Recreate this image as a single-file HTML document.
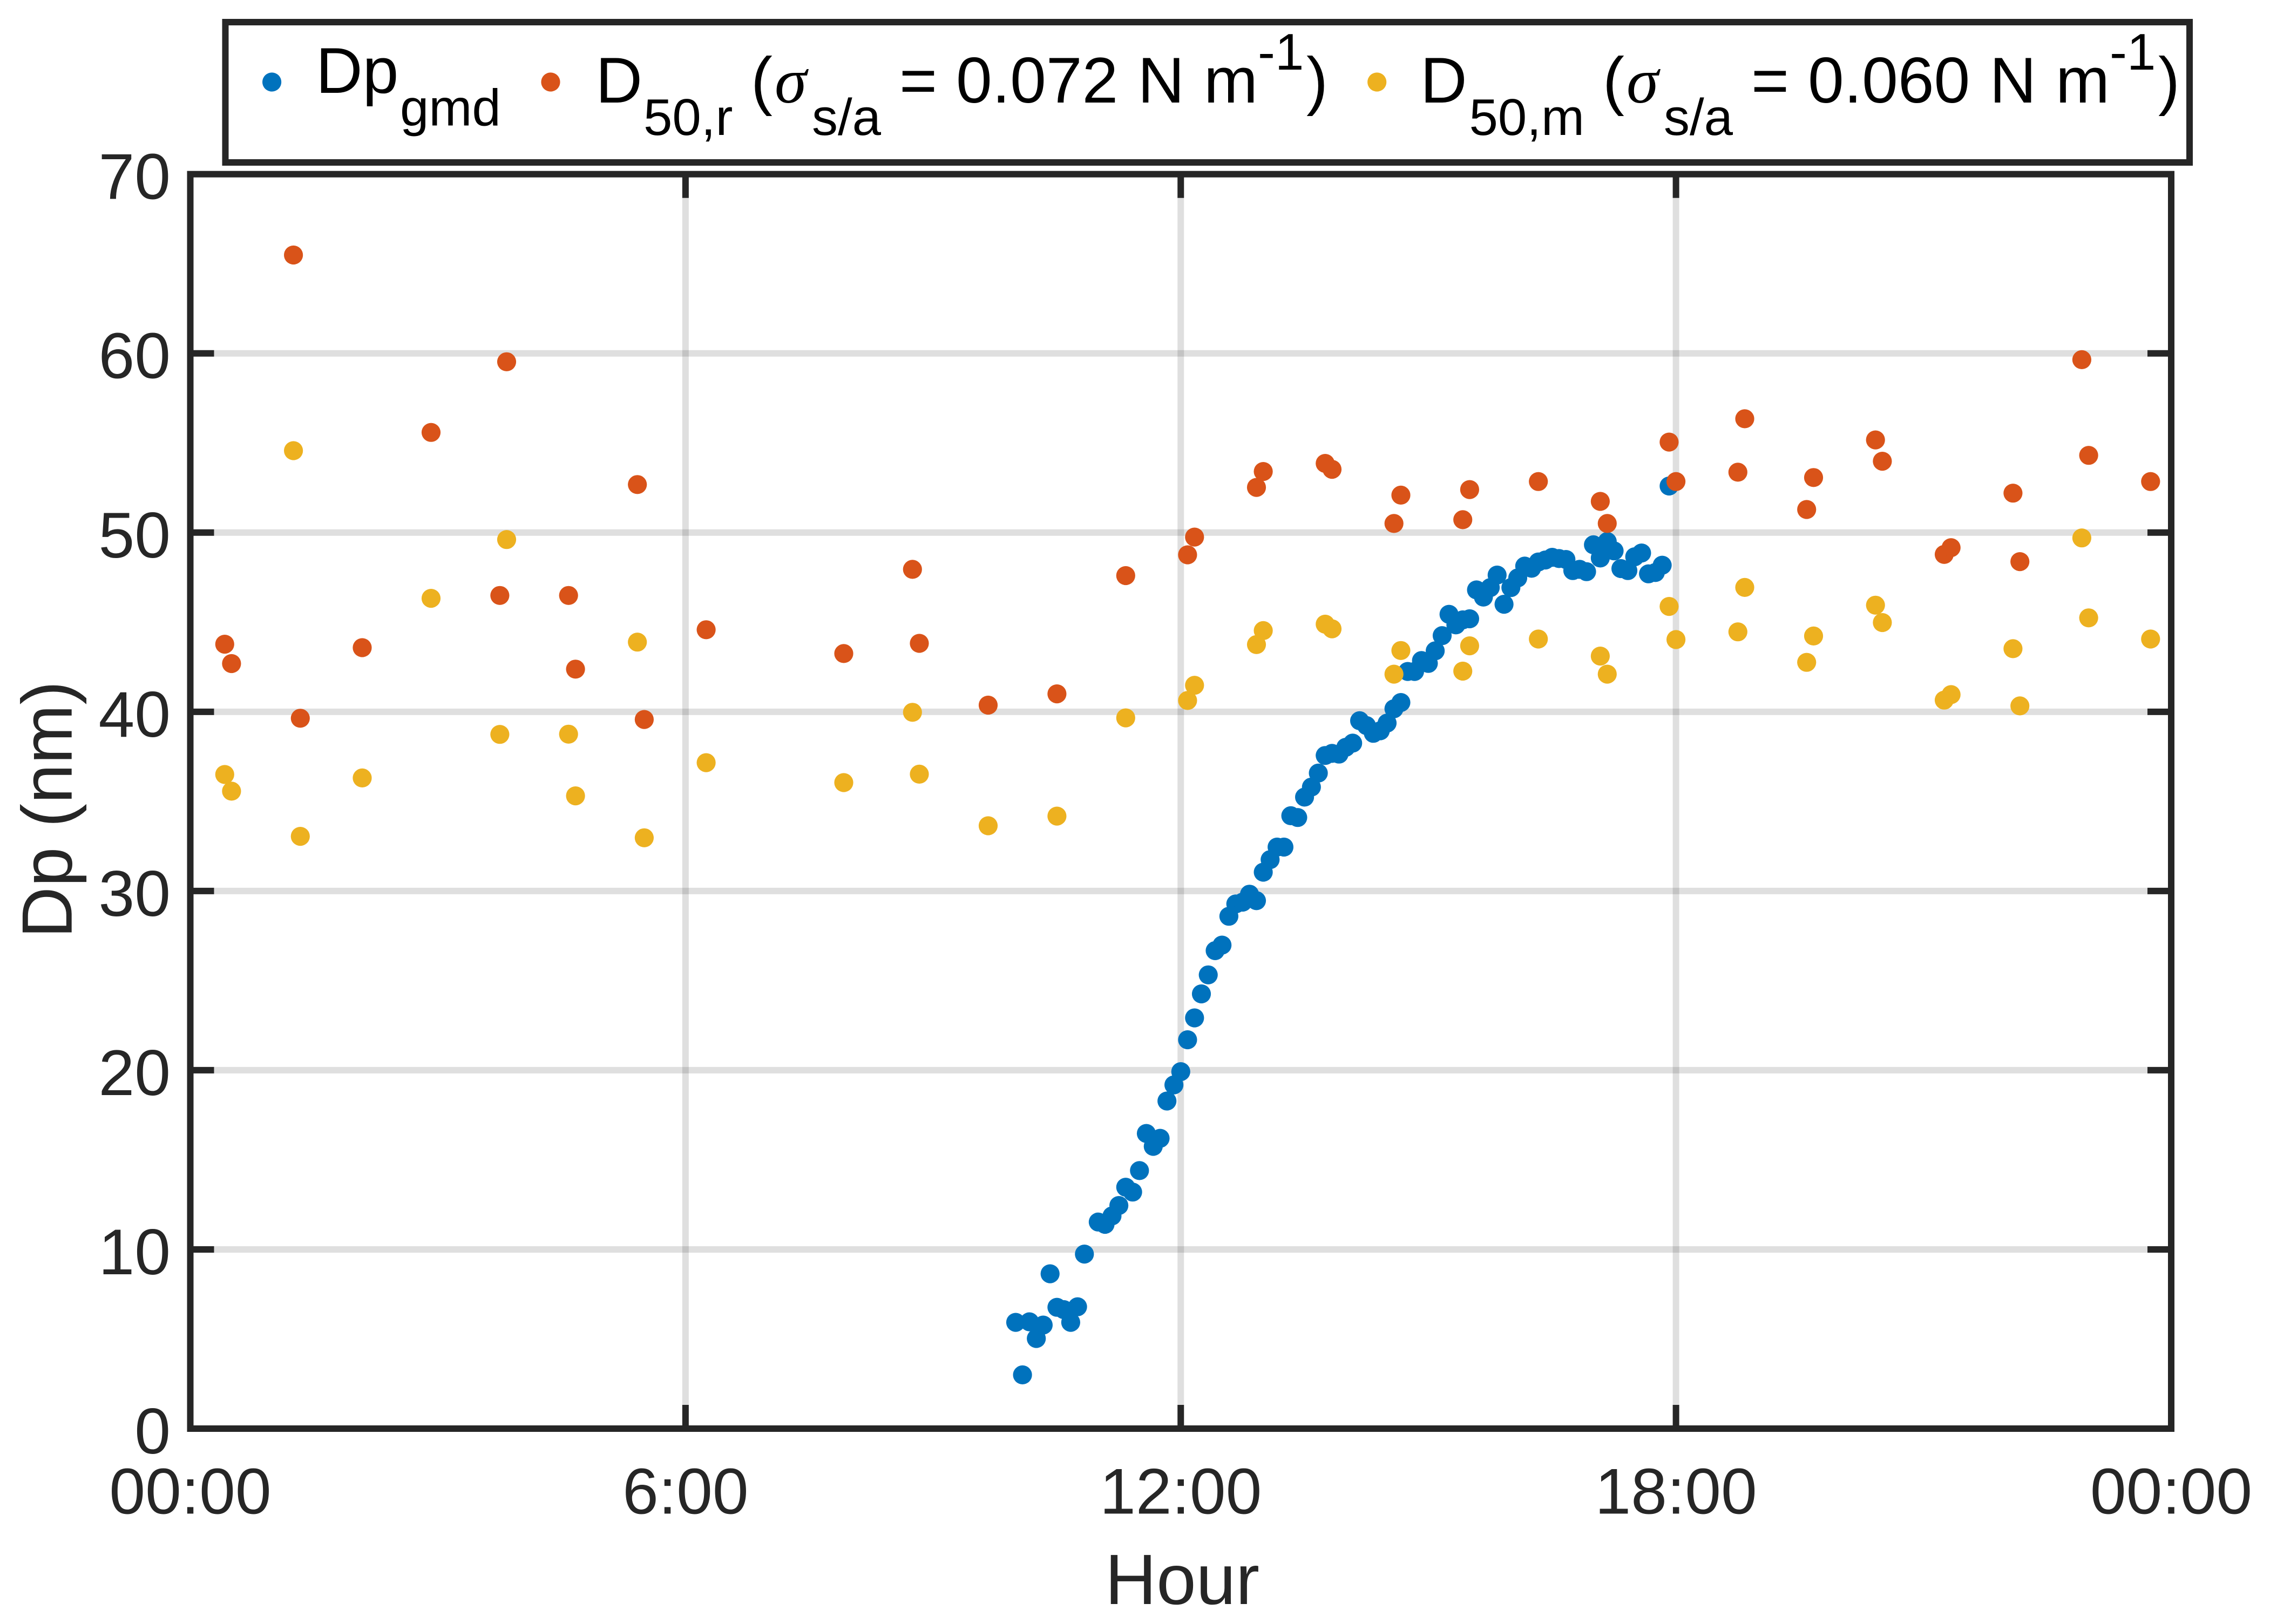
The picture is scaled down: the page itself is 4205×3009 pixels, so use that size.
<!DOCTYPE html>
<html lang="en">
<head>
<meta charset="utf-8">
<title>Dp vs Hour</title>
<style>
html,body{margin:0;padding:0;background:#fff;}
svg{display:block;}
text{font-family:"Liberation Sans",sans-serif;}
.sigma{font-family:"Liberation Serif",serif;font-style:italic;}
</style>
</head>
<body>
<svg id="chart" xmlns="http://www.w3.org/2000/svg" width="4205" height="3009" viewBox="0 0 4205 3009">
  <rect x="0" y="0" width="4205" height="3009" fill="#ffffff"/>
  <g id="grid"></g>
  <g id="series-gmd"></g>
  <g id="series-r"></g>
  <g id="series-m"></g>
  <g id="ticks"></g>
  <rect x="352.5" y="322.7" width="3669.5" height="2324.3" fill="none" stroke="#262626" stroke-width="12"/>
  <g id="tick-labels" font-size="120" fill="#262626"></g>
  <text x="2190" y="2972" font-size="132" fill="#262626" text-anchor="middle">Hour</text>
  <text transform="translate(132.7,1500) rotate(-90)" font-size="132" fill="#262626" text-anchor="middle">Dp (nm)</text>

  <g>
    <rect x="417.5" y="41" width="3638.5" height="260" fill="#ffffff" stroke="#262626" stroke-width="12"/>
    <g>
      <circle cx="503.6" cy="152" r="17.6" fill="#0072BD"/>
      <text x="585" y="172" font-size="120" fill="#000">Dp</text>
      <text x="741" y="232.7" font-size="96" fill="#000">gmd</text>
    </g>
    <g>
      <circle cx="1020" cy="152" r="17.6" fill="#D95319"/>
      <text x="1103.4" y="190" font-size="120" fill="#000">D</text>
      <text x="1192" y="250" font-size="96" fill="#000">50,r</text>
      <text x="1391" y="190" font-size="120" fill="#000">(</text>
      <text class="sigma" x="1435" y="190" font-size="120" fill="#000">σ</text>
      <text x="1504" y="250" font-size="96" fill="#000">s/a</text>
      <text x="1666" y="190" font-size="120" fill="#000">=</text>
      <text x="1771" y="190" font-size="120" fill="#000">0.072</text>
      <text x="2107.5" y="190" font-size="120" fill="#000">N</text>
      <text x="2230" y="190" font-size="120" fill="#000">m</text>
      <text x="2330" y="129" font-size="96" fill="#000">-1</text>
      <text x="2420" y="190" font-size="120" fill="#000">)</text>
    </g>
    <g>
      <circle cx="2550.7" cy="152" r="17.6" fill="#EDB120"/>
      <text x="2631" y="190" font-size="120" fill="#000">D</text>
      <text x="2721.5" y="250" font-size="96" fill="#000">50,m</text>
      <text x="2969" y="190" font-size="120" fill="#000">(</text>
      <text class="sigma" x="3013" y="190" font-size="120" fill="#000">σ</text>
      <text x="3082" y="250" font-size="96" fill="#000">s/a</text>
      <text x="3244" y="190" font-size="120" fill="#000">=</text>
      <text x="3349" y="190" font-size="120" fill="#000">0.060</text>
      <text x="3685.5" y="190" font-size="120" fill="#000">N</text>
      <text x="3808" y="190" font-size="120" fill="#000">m</text>
      <text x="3908" y="129" font-size="96" fill="#000">-1</text>
      <text x="3998" y="190" font-size="120" fill="#000">)</text>
    </g>
  </g>
</svg>
<script>
var xTickHours = [0, 6, 12, 18, 24];
var xTickLabels = ["00:00", "6:00", "12:00", "18:00", "00:00"];
var yTickValues = [0, 10, 20, 30, 40, 50, 60, 70];
var yTickLabels = ["0", "10", "20", "30", "40", "50", "60", "70"];

var gmdHours = [10.000,10.083,10.167,10.250,10.333,10.417,10.500,10.583,10.667,10.750,10.833,
  11.000,11.083,11.167,11.250,11.333,11.417,11.500,11.583,11.667,11.750,11.833,11.917,
  12.000,12.083,12.167,12.250,12.333,12.417,12.500,12.583,12.667,12.750,12.833,12.917,
  13.000,13.083,13.167,13.250,13.333,13.417,13.500,13.583,13.667,13.750,13.833,13.917,
  14.000,14.083,14.167,14.250,14.333,14.417,14.500,14.583,14.667,14.750,14.833,14.917,
  15.000,15.083,15.167,15.250,15.333,15.417,15.500,15.583,15.667,15.750,15.833,15.917,
  16.000,16.083,16.167,16.250,16.333,16.417,16.500,16.583,16.667,16.750,16.833,16.917,
  17.000,17.083,17.167,17.250,17.333,17.417,17.500,17.583,17.667,17.750,17.833,17.917];
var gmdValues = [5.93,3.0,5.96,5.03,5.78,8.64,6.77,6.64,5.93,6.8,9.74,
  11.53,11.4,11.87,12.45,13.47,13.2,14.4,16.47,15.75,16.2,18.28,19.18,
  19.92,21.7,22.92,24.26,25.32,26.67,26.98,28.59,29.28,29.38,29.82,29.46,
  31.05,31.75,32.45,32.45,34.2,34.1,35.24,35.8,36.58,37.56,37.68,37.64,
  38.02,38.25,39.5,39.23,38.8,38.94,39.37,40.17,40.52,42.25,42.25,42.86,
  42.7,43.4,44.25,45.44,44.85,45.13,45.19,46.8,46.4,46.93,47.63,46.0,
  46.93,47.47,48.13,48.01,48.36,48.47,48.62,48.55,48.5,47.88,47.95,47.82,
  49.32,48.58,49.5,48.98,47.99,47.88,48.65,48.86,47.7,47.77,48.18,52.6];

var d50Hours = [0.417,0.5,1.25,1.333,2.083,2.917,3.75,3.833,4.583,4.667,5.417,5.5,6.25,7.917,
  8.75,8.833,9.667,10.5,11.333,12.083,12.167,12.917,13.0,13.75,13.833,14.583,14.667,15.417,15.5,
  16.333,17.083,17.167,17.917,18.0,18.75,18.833,19.583,19.667,20.417,20.5,21.25,21.333,22.083,22.167,22.917,23.0,23.75];
var d50rValues = [43.77,42.69,65.49,39.64,43.58,55.59,46.49,59.53,46.49,42.38,52.68,39.57,44.58,43.25,
  47.95,43.82,40.37,41.0,47.6,48.76,49.75,52.52,53.41,53.86,53.53,50.51,52.09,50.72,52.4,
  52.85,51.74,50.51,55.05,52.85,53.37,56.35,51.29,53.07,55.17,53.98,48.78,49.16,52.2,48.38,59.65,54.31,52.85];
var d50mValues = [36.5,35.57,54.57,33.05,36.31,46.33,38.74,49.61,38.75,35.31,43.89,32.97,37.16,36.05,
  39.97,36.52,33.64,34.18,39.66,40.63,41.48,43.75,44.53,44.89,44.63,42.1,43.42,42.27,43.68,
  44.06,43.11,42.1,45.88,44.03,44.46,46.94,42.76,44.23,45.95,44.98,40.65,40.96,43.52,40.33,49.7,45.24,44.06];

var NS = "http://www.w3.org/2000/svg";
var plotLeft = 352.5, plotRight = 4022, plotTop = 322.7, plotBottom = 2647;
var xMax = 24, yMax = 70, tickLen = 44;

function xScale(h) { return plotLeft + (h / xMax) * (plotRight - plotLeft); }
function yScale(v) { return plotBottom - (v / yMax) * (plotBottom - plotTop); }

function makeLine(parent, x1, y1, x2, y2, color, opacity, name) {
  var el = document.createElementNS(NS, "line");
  el.setAttribute("x1", x1);
  el.setAttribute("y1", y1);
  el.setAttribute("x2", x2);
  el.setAttribute("y2", y2);
  el.setAttribute("stroke", color);
  el.setAttribute("stroke-width", 12);
  el.setAttribute("stroke-opacity", opacity);
  
  
  parent.appendChild(el);
}

function makeLabel(parent, x, y, anchor, str, name) {
  var el = document.createElementNS(NS, "text");
  el.setAttribute("x", x);
  el.setAttribute("y", y);
  el.setAttribute("text-anchor", anchor);
  
  
  el.textContent = str;
  parent.appendChild(el);
}

function drawSeries(parent, hours, values, color, name) {
  for (var i = 0; i < values.length; i++) {
    var c = document.createElementNS(NS, "circle");
    c.setAttribute("cx", xScale(hours[i]).toFixed(1));
    c.setAttribute("cy", yScale(values[i]).toFixed(1));
    c.setAttribute("r", 17.6);
    c.setAttribute("fill", color);
    
    
    parent.appendChild(c);
  }
}

var gridG = document.getElementById("grid");
var ticksG = document.getElementById("ticks");
var labelsG = document.getElementById("tick-labels");

yTickValues.forEach(function (v, i) {
  var y = yScale(v);
  if (v > 0 && v < yMax) {
    makeLine(gridG, plotLeft, y, plotRight, y, "#262626", 0.15, "horizontal-grid-line");
    makeLine(ticksG, plotLeft, y, plotLeft + tickLen, y, "#262626", 1, "y-tick-left");
    makeLine(ticksG, plotRight - tickLen, y, plotRight, y, "#262626", 1, "y-tick-right");
  }
  makeLabel(labelsG, 316, y + 46, "end", yTickLabels[i], "y-tick-label");
});

xTickHours.forEach(function (h, i) {
  var x = xScale(h);
  if (h > 0 && h < xMax) {
    makeLine(gridG, x, plotTop, x, plotBottom, "#262626", 0.15, "vertical-grid-line");
    makeLine(ticksG, x, plotBottom - tickLen, x, plotBottom, "#262626", 1, "x-tick-bottom");
    makeLine(ticksG, x, plotTop, x, plotTop + tickLen, "#262626", 1, "x-tick-top");
  }
  makeLabel(labelsG, x, 2804.5, "middle", xTickLabels[i], "x-tick-label");
});

drawSeries(document.getElementById("series-gmd"), gmdHours, gmdValues, "#0072BD", "dp-gmd-point");
drawSeries(document.getElementById("series-r"), d50Hours, d50rValues, "#D95319", "d50-r-point");
drawSeries(document.getElementById("series-m"), d50Hours, d50mValues, "#EDB120", "d50-m-point");
</script>
</body>
</html>
